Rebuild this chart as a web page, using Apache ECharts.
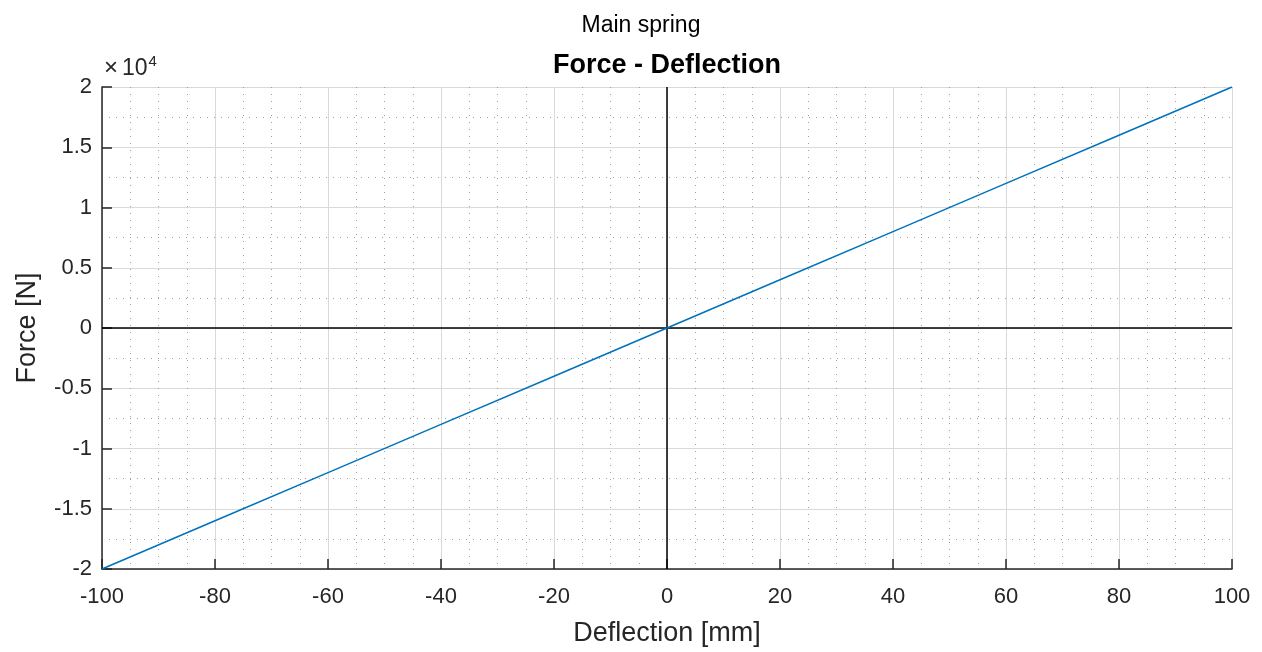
<!DOCTYPE html>
<html><head><meta charset="utf-8">
<script src="https://cdn.jsdelivr.net/npm/echarts@6/dist/echarts.min.js"></script>
<style>html,body{margin:0;padding:0;background:#fff}#c{width:1262px;height:652px}</style>
</head><body><div id="c"></div>
<script>
const deflection = [-100, -80, -60, -40, -20, 0, 20, 40, 60, 80, 100];
const force = [-20000, -16000, -12000, -8000, -4000, 0, 4000, 8000, 12000, 16000, 20000];
const xTicks = [-100, -80, -60, -40, -20, 0, 20, 40, 60, 80, 100];
const yTickLabels = ['-2', '-1.5', '-1', '-0.5', '0', '0.5', '1', '1.5', '2'];

const FONT = 'Liberation Sans, Arial, sans-serif';
const txt = '#262626';
const chart = echarts.init(document.getElementById('c'));
chart.setOption({
  animation: false,
  backgroundColor: '#fff',
  title: [
    {text: 'Main spring', left: 636, top: 9, textAlign: 'center',
     textStyle: {fontFamily: FONT, fontSize: 23, fontWeight: 'normal', color: '#000'}},
    {text: 'Force - Deflection', left: 662, top: 47, textAlign: 'center',
     textStyle: {fontFamily: FONT, fontSize: 27, fontWeight: 'bold', color: '#000'}}
  ],
  graphic: [{
    type: 'text', left: 104, top: 54,
    style: {
      text: '{a|×}{b|10}{c|4}',
      rich: {
        a: {fontFamily: FONT, fontSize: 24, fill: txt, verticalAlign: 'bottom', padding: [0, 4, 0, 0]},
        b: {fontFamily: FONT, fontSize: 23, fill: txt, verticalAlign: 'bottom'},
        c: {fontFamily: FONT, fontSize: 15, fill: txt, verticalAlign: 'top', padding: [0, 0, 11, 1]}
      }
    }
  }],
  grid: {left: 102, right: 30, top: 87, bottom: 80, containLabel: false},
  xAxis: {
    type: 'value', min: -100, max: 100, interval: 20,
    name: 'Deflection [mm]', nameLocation: 'middle', nameGap: 51,
    nameTextStyle: {fontFamily: FONT, fontSize: 27, color: txt},
    axisLine: {show: true, onZero: false, lineStyle: {color: '#262626', width: 1.5}},
    axisTick: {show: true, inside: true, length: 10, lineStyle: {color: '#262626', width: 1.5}},
    axisLabel: {fontFamily: FONT, fontSize: 22, color: txt, margin: 17,
      formatter: v => xTicks.includes(v) ? String(v) : ''},
    splitLine: {show: true, lineStyle: {color: '#d9d9d9', width: 1}},
    minorTick: {show: false, splitNumber: 4},
    minorSplitLine: {show: true, lineStyle: {color: '#a0a0a0', width: 1, type: [1, 6]}}
  },
  yAxis: {
    type: 'value', min: -20000, max: 20000, interval: 5000,
    name: 'Force [N]', nameLocation: 'middle', nameGap: 61,
    nameTextStyle: {fontFamily: FONT, fontSize: 27, color: txt},
    axisLine: {show: true, onZero: false, lineStyle: {color: '#262626', width: 1.5}},
    axisTick: {show: true, inside: true, length: 10, lineStyle: {color: '#262626', width: 1.5}},
    axisLabel: {fontFamily: FONT, fontSize: 22, color: txt, margin: 10,
      formatter: v => yTickLabels[Math.round((v + 20000) / 5000)]},
    splitLine: {show: true, lineStyle: {color: '#d9d9d9', width: 1}},
    minorTick: {show: false, splitNumber: 2},
    minorSplitLine: {show: true, lineStyle: {color: '#a0a0a0', width: 1, type: [1, 6]}}
  },
  series: [{
    type: 'line',
    data: deflection.map((x, i) => [x, force[i]]),
    showSymbol: false, symbol: 'none',
    lineStyle: {color: '#0072BD', width: 1.5},
    z: 3,
    markLine: {
      silent: true, symbol: 'none', label: {show: false},
      lineStyle: {color: '#000', width: 1.5, type: 'solid'},
      data: [{xAxis: 0}, {yAxis: 0}],
      z: 2
    }
  }]
});
</script></body></html>
